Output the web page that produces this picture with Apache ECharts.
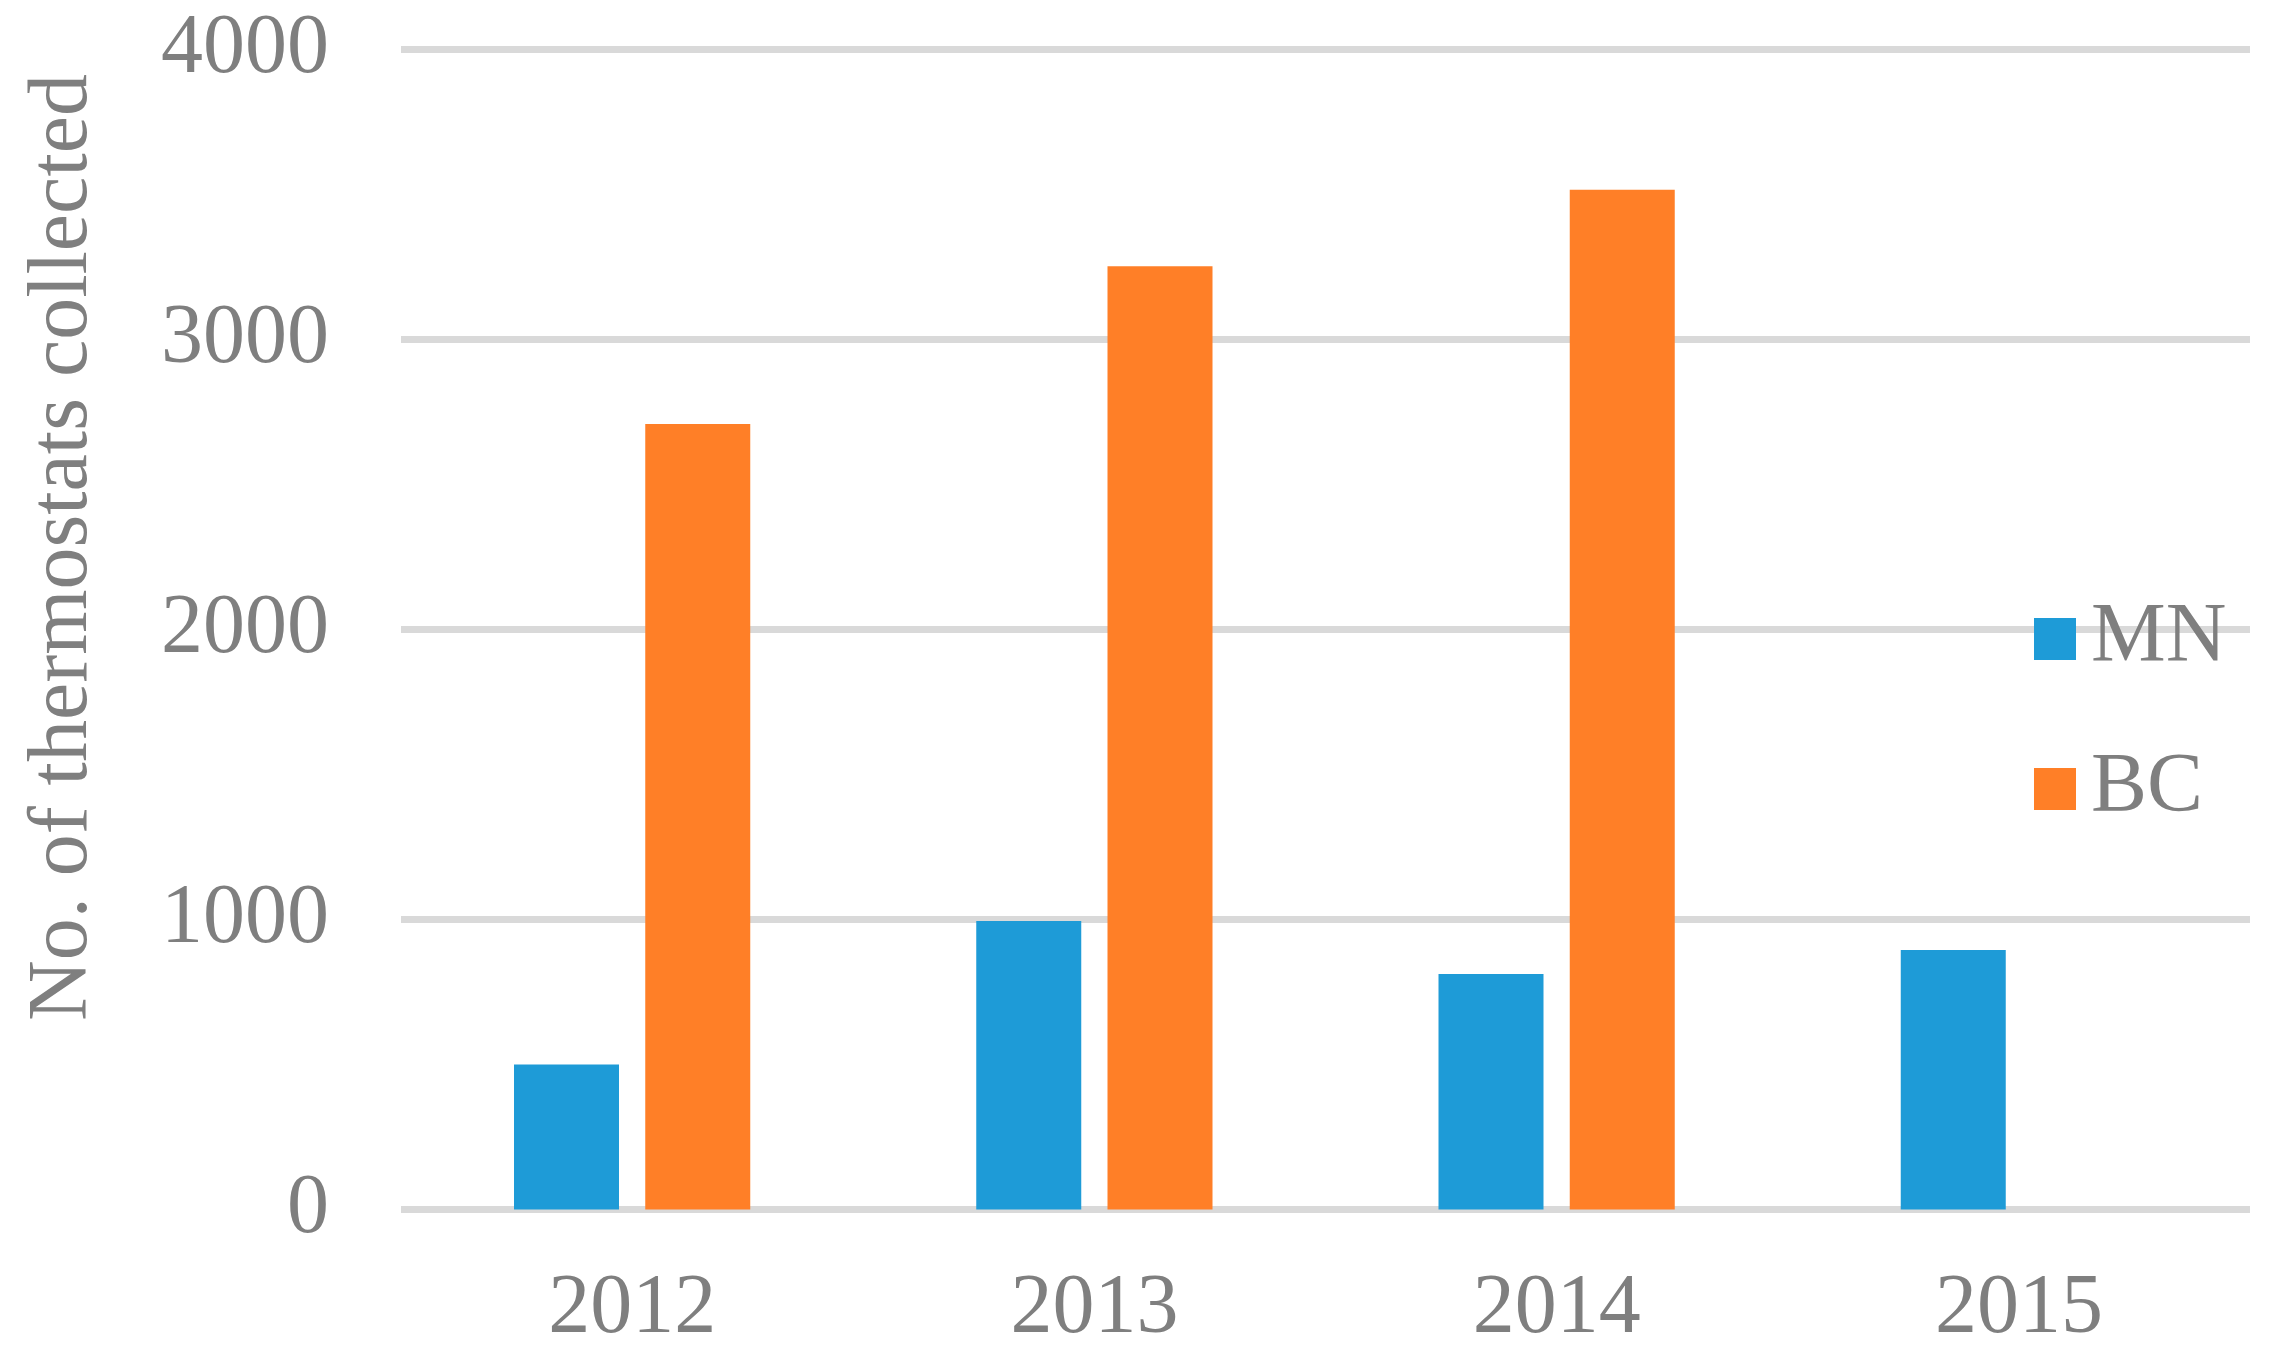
<!DOCTYPE html>
<html>
<head>
<meta charset="utf-8">
<style>
  html, body { margin: 0; padding: 0; background: #ffffff; }
  #chart { width: 2274px; height: 1361px; }
</style>
<script src="https://cdn.jsdelivr.net/npm/echarts@6/dist/echarts.min.js"></script>
</head>
<body>
<div id="chart"></div>
<script>
const categories = ['2012', '2013', '2014', '2015'];
const mnValues = [500, 995, 812, 895];
const bcValues = [2709, 3253, 3516, null];
const seriesNames = ['MN', 'BC'];
const yTitle = 'No. of thermostats collected';

const FONT = "Liberation Serif";
const GRAY = '#7f7f7f';

const chart = echarts.init(document.getElementById('chart'), null, { renderer: 'canvas' });
chart.setOption({
  animation: false,
  backgroundColor: '#ffffff',
  grid: { left: 401, right: 24, top: 49.5, bottom: 151.5, containLabel: false },
  legend: {
    orient: 'vertical',
    left: 2029,
    top: 592,
    itemWidth: 42,
    itemHeight: 42,
    itemGap: 66,
    icon: 'rect',
    data: seriesNames,
    textStyle: { fontFamily: FONT, fontSize: 84, color: GRAY, lineHeight: 84, padding: [0, 0, 0, 10] }
  },
  xAxis: {
    type: 'category',
    data: categories,
    axisLine: { show: false },
    axisTick: { show: false },
    axisLabel: { fontFamily: FONT, fontSize: 84, color: GRAY, margin: 58 }
  },
  yAxis: {
    type: 'value',
    min: 0,
    max: 4000,
    interval: 1000,
    name: yTitle,
    nameLocation: 'middle',
    nameRotate: 90,
    nameGap: 295,
    nameTextStyle: { fontFamily: FONT, fontSize: 84, color: GRAY, lineHeight: 84, padding: [0, 0, 0, 164] },
    axisLine: { show: false },
    axisTick: { show: false },
    splitLine: { show: true, lineStyle: { color: '#d9d9d9', width: 7 } },
    axisLabel: { fontFamily: FONT, fontSize: 84, color: GRAY, margin: 72, formatter: function (v) { return String(v); } }
  },
  series: [
    {
      name: seriesNames[0],
      type: 'bar',
      data: mnValues,
      barWidth: 105,
      barGap: '25%',
      itemStyle: { color: '#1e9bd7' }
    },
    {
      name: seriesNames[1],
      type: 'bar',
      data: bcValues,
      barWidth: 105,
      barGap: '25%',
      itemStyle: { color: '#ff7f27' }
    }
  ]
});
</script>
</body>
</html>
